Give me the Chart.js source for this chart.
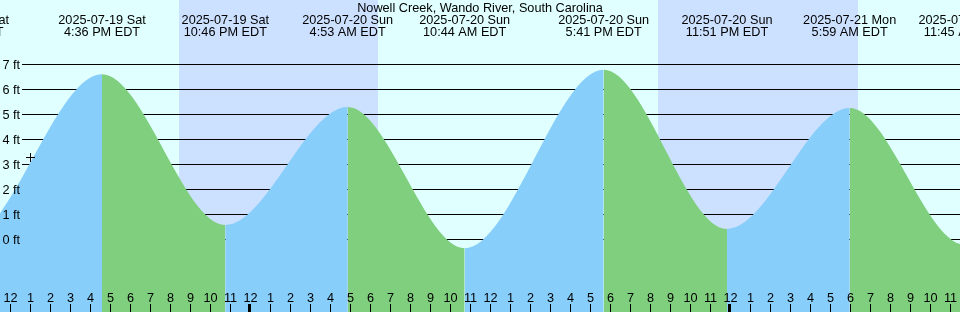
<!DOCTYPE html>
<html><head><meta charset="utf-8">
<script src="https://cdn.jsdelivr.net/npm/chart.js@4.4.1/dist/chart.umd.min.js"></script>
<style>html,body{margin:0;padding:0;background:#e0ffff;overflow:hidden}canvas{display:block}</style>
</head><body>
<canvas id="c" width="960" height="312"></canvas>
<script>
const chartTitle = "Nowell Creek, Wando River, South Carolina";
// tide extremes (first and last are off-screen estimates that shape the edges)
const tideTimes = ["2025-07-19 03:40","2025-07-19 09:46","2025-07-19 16:36","2025-07-19 22:46","2025-07-20 04:53","2025-07-20 10:44","2025-07-20 17:41","2025-07-20 23:51","2025-07-21 05:59","2025-07-21 11:45","2025-07-21 18:25"];
const tideHeights = [5.3, 0.0, 6.61, 0.59, 5.30, -0.34, 6.79, 0.43, 5.26, -0.2, 6.9];
const eventTimes = ["2025-07-19 09:46","2025-07-19 16:36","2025-07-19 22:46","2025-07-20 04:53","2025-07-20 10:44","2025-07-20 17:41","2025-07-20 23:51","2025-07-21 05:59","2025-07-21 11:45"];
const eventDateLabels = ["2025-07-19 Sat","2025-07-19 Sat","2025-07-19 Sat","2025-07-20 Sun","2025-07-20 Sun","2025-07-20 Sun","2025-07-20 Sun","2025-07-21 Mon","2025-07-21 Mon"];
const eventTimeLabels = ["9:46 AM EDT","4:36 PM EDT","10:46 PM EDT","4:53 AM EDT","10:44 AM EDT","5:41 PM EDT","11:51 PM EDT","5:59 AM EDT","11:45 AM EDT"];
const nightStarts = ["2025-07-19 20:27","2025-07-20 20:24"];
const nightEnds = ["2025-07-20 06:23","2025-07-21 06:24"];
const depthTicks = [0,1,2,3,4,5,6,7];
const depthLabels = ["0 ft","1 ft","2 ft","3 ft","4 ft","5 ft","6 ft","7 ft"];
const firstHourTick = "2025-07-19 12:00";
const hourLabels = ["12","1","2","3","4","5","6","7","8","9","10","11",
                    "12","1","2","3","4","5","6","7","8","9","10","11",
                    "12","1","2","3","4","5","6","7","8","9","10","11",
                    "12","1","2","3","4","5","6","7","8","9","10","11"];
const markerTime = "2025-07-19 13:00";
const markerHeight = 3.3;
const viewStart = "2025-07-19 11:30";
const viewEnd = "2025-07-21 11:30";
const yMin = -2.883, yMax = 9.5755;

const DAY = "#e0ffff", NIGHT = "#cce0ff", RISE = "#87cefa", FALL = "#7fcf7f";
const FONT = '12.7px "Liberation Sans", Arial, sans-serif';

function hrs(s){
  const m = s.match(/(\d+)-(\d+)-(\d+) (\d+):(\d+)/);
  return (Date.UTC(+m[1], +m[2]-1, +m[3], +m[4], +m[5]) - Date.UTC(2025,6,19,0,0)) / 3600000;
}

const points = tideTimes.map((t,i)=>({x: hrs(t), y: tideHeights[i]}));

const decor = {
  id: 'decor',
  beforeDraw(chart){
    const {ctx, scales:{x, y}} = chart;
    ctx.save();
    ctx.fillStyle = DAY; ctx.fillRect(0,0,chart.width,chart.height);
    ctx.fillStyle = NIGHT;
    nightStarts.forEach((s,i)=>{
      const x0 = Math.round(x.getPixelForValue(hrs(s)));
      const x1 = Math.round(x.getPixelForValue(hrs(nightEnds[i])));
      ctx.fillRect(x0, 0, x1-x0, chart.height);
    });
    ctx.fillStyle = '#000';
    depthTicks.forEach(v=>{
      const py = Math.floor(y.getPixelForValue(v));
      ctx.fillRect(22, py, chart.width-22, 1);
    });
    ctx.restore();
  },
  afterDatasetsDraw(chart){
    const {ctx, scales:{x, y}} = chart;
    ctx.save();
    ctx.fillStyle = '#000';
    ctx.font = FONT;
    ctx.textBaseline = 'alphabetic';
    // depth labels
    ctx.textAlign = 'left';
    depthTicks.forEach((v,i)=>{
      ctx.fillText(depthLabels[i], 2.5, y.getPixelForValue(v)+4.5);
    });
    // hour ticks
    ctx.textAlign = 'center';
    const h0 = hrs(firstHourTick);
    hourLabels.forEach((lab,i)=>{
      const h = h0 + i;
      const px = Math.round(x.getPixelForValue(h));
      if (h % 24 === 0) ctx.fillRect(px-2, 304, 3, 8);
      else ctx.fillRect(px, 304, 1, 8);
      ctx.fillText(lab, px+0.5, 302);
    });
    // event labels
    eventTimes.forEach((t,i)=>{
      const px = x.getPixelForValue(hrs(t));
      ctx.fillText(eventDateLabels[i], px, 24);
      ctx.fillText(eventTimeLabels[i], px, 36);
    });
    // title
    ctx.fillText(chartTitle, chart.width/2, 12);
    // current-time marker
    const mx = Math.round(x.getPixelForValue(hrs(markerTime)));
    const my = Math.round(y.getPixelForValue(markerHeight));
    ctx.fillRect(mx-4, my, 9, 1);
    ctx.fillRect(mx, my-4, 1, 9);
    ctx.restore();
  }
};

new Chart(document.getElementById('c'), {
  type: 'line',
  data: {
    datasets: [{
      data: points,
      parsing: false,
      borderWidth: 0,
      borderColor: 'rgba(0,0,0,0)',
      pointRadius: 0,
      cubicInterpolationMode: 'monotone',
      fill: 'start',
      backgroundColor: RISE,
      segment: {
        backgroundColor: c => c.p1.parsed.y > c.p0.parsed.y ? RISE : FALL
      }
    }]
  },
  options: {
    responsive: false,
    animation: false,
    devicePixelRatio: 1,
    layout: {padding: 0},
    events: [],
    scales: {
      x: {type: 'linear', min: hrs(viewStart), max: hrs(viewEnd), display: false},
      y: {type: 'linear', min: yMin, max: yMax, display: false}
    },
    plugins: {legend: {display: false}, tooltip: {enabled: false}, title: {display: false}}
  },
  plugins: [decor]
});
</script>
</body></html>
